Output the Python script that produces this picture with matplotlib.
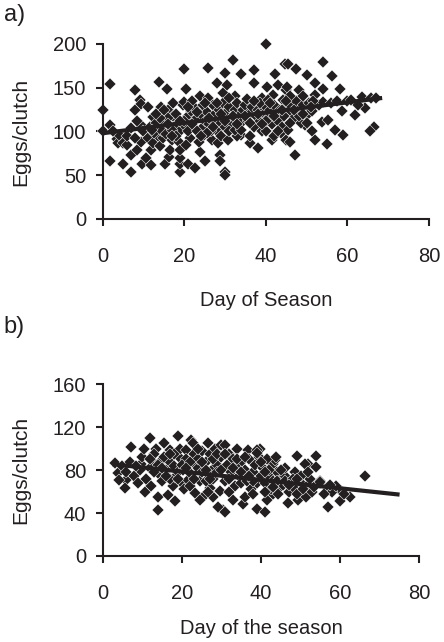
import numpy as np
import matplotlib
matplotlib.use('Agg')
import matplotlib.pyplot as plt

plt.rcParams['font.family'] = ['Liberation Sans', 'DejaVu Sans']

# panel a) eggs per clutch vs day of season
day_a = [0, 0, 1.9, 1.7, 1.7, 3.4, 3.8, 5, 5, 4, 2.5,
         6, 7, 6.9, 7.8, 7.8, 8.3, 7, 9.1, 9.5, 9.5, 9.5, 9.7, 6, 8, 10, 8.5,
         11, 11.6, 11, 11.8, 11.9, 12.3, 12.3, 13.7, 13.5, 13.8, 14, 14.4, 14.7, 10.5, 12.5, 13, 14.5, 15.2,
         15.3, 15.6, 15.8, 16.1, 16.2, 16.5, 16.9, 17.3, 17.3, 18, 18.6, 18.9, 18.9, 18.9, 18.9, 19, 19.7, 19.9, 19.9, 20, 20.3, 17, 16, 18,
         20.9, 21, 21.3, 21.7, 22, 22.6, 23.8, 23.8, 24.3, 25, 22.5, 23, 24, 24.5, 21, 23, 25, 22, 24.5, 20.5, 23.5,
         25.9, 25.9, 26.7, 27.9, 28.3, 28.7, 28.7, 29.6, 30, 30, 30, 30.4, 25.5, 26, 27, 27.5, 28, 28.5, 29, 29.5, 26.5, 27, 29, 30, 30, 25.5,
         30.8, 32, 32.4, 34, 34, 31, 31.5, 32, 32.5, 33, 33.5, 34, 34.5, 31, 33, 35, 35.3, 32.5,
         36.1, 37.2, 37.2, 38, 39, 35.5, 36, 36.5, 37, 37.5, 38, 38.5, 39, 39.5, 40, 36, 38.5,
         40, 40.2, 41.4, 41.8, 42.2, 43, 43.8, 44.2, 44.8, 45, 45, 40.5, 41, 41.5, 42, 42.5, 43, 43.5, 44, 44.5, 40, 42, 45, 40.5,
         45.5, 45.1, 45.5, 45.9, 47.1, 47.5, 48, 49.6, 50, 50, 46, 46.5, 47, 47.5, 48, 48.5, 49, 46, 49,
         51.2, 51.2, 52, 52, 52, 53.7, 54.1, 54.1, 54.9, 55.3, 50.5, 53, 54, 51.5,
         56.1, 57, 58.2, 58.6, 59, 56, 57.5, 60,
         60.9, 61.9, 63.5, 64.3, 65.8, 66.6, 65.6, 62.5, 67,
         12, 14, 16, 18, 20, 22, 24, 26, 28, 30, 32, 34, 36, 38, 40, 42, 44, 46, 48, 50,
         13, 15, 17, 19, 21, 23, 25, 27, 29, 31, 33, 35, 37, 39, 41, 43, 45, 47, 49, 51]
eggs_a = [125, 100, 154, 66, 107, 91, 87, 87, 63, 96, 100,
          84, 73, 54, 147, 125, 79, 104, 136, 131, 107, 88, 63, 95, 92, 100, 112,
          128, 105, 93, 62, 79, 117, 87, 105, 95, 156, 83, 128, 92, 70, 98, 110, 100, 63,
          111, 97, 149, 125, 71, 79, 90, 118, 132, 107, 88, 54, 63, 70, 79, 101, 130, 134, 171, 107, 148, 102, 115, 95,
          63, 118, 93, 123, 110, 58, 140, 77, 94, 66, 128, 115, 120, 105, 100, 100, 112, 135, 130, 85, 88,
          173, 138, 90, 155, 87, 73, 66, 144, 167, 54, 50, 153, 122, 108, 130, 115, 100, 125, 110, 133, 100, 118, 95, 120, 105, 98,
          90, 182, 140, 166, 96, 128, 115, 108, 124, 132, 118, 110, 125, 100, 95, 130, 137, 102,
          87, 170, 155, 81, 138, 112, 120, 128, 105, 118, 125, 112, 100, 120, 128, 95, 132,
          200, 151, 90, 142, 166, 153, 98, 136, 177, 147, 90, 115, 125, 108, 130, 120, 112, 125, 105, 118, 100, 95, 128, 136,
          177, 151, 102, 88, 73, 171, 147, 107, 165, 119, 130, 122, 115, 135, 125, 110, 130, 110, 140,
          123, 100, 155, 142, 90, 111, 179, 149, 86, 113, 132, 130, 134, 135,
          163, 102, 148, 123, 96, 133, 135, 135,
          136, 119, 139, 127, 138, 105, 100, 130, 138,
          102, 115, 108, 120, 112, 108, 95, 115, 132, 112, 118, 102, 110, 120, 112, 118, 125, 140, 118, 110,
          120, 125, 95, 112, 128, 122, 132, 105, 120, 138, 108, 118, 135, 108, 132, 100, 135, 125, 120, 128]
fit_a_x = [0, 68]
fit_a_y = [98, 138]

# panel b) eggs per clutch vs day of the season
day_b = [3.1, 3.9, 6, 5.6, 4.2, 5, 6, 7,
         7.1, 9.8, 8, 9, 10.6, 9.5, 10, 8.5,
         11.9, 12.3, 12.3, 13.5, 14, 14, 14, 11, 12, 13, 14.5, 10.5, 15,
         15.6, 16.5, 16.9, 17.8, 18.2, 18.2, 19, 19.4, 16, 17, 18, 19, 20, 15.5, 17, 19.5,
         21.1, 20.3, 21.5, 22.4, 22.9, 23.3, 23.3, 25.4, 21, 22, 23, 24, 24.5, 25, 20.5, 22, 24, 25,
         26.7, 27.1, 29.6, 30.5, 26, 27, 27.5, 28, 28.5, 29, 30, 26, 28, 29, 30, 26.5, 24.6, 29.2, 30.9,
         30.9, 33, 35.5, 31, 31.5, 32, 32.5, 33, 33.5, 34, 34.5, 35, 32, 34, 35,
         36.8, 38.9, 39.7, 36, 36.5, 37, 37.5, 38, 38.5, 39, 40, 36, 39.5, 38, 38.9, 41,
         41.4, 43.1, 43.1, 44.8, 43.5, 44.3, 40.5, 41, 41.5, 42, 42.5, 43, 44, 45, 41, 43.9,
         46.9, 49, 49.4, 45.5, 46, 47, 47.5, 48, 48.5, 49, 50, 46,
         51.5, 51.9, 52, 54, 54, 54.8, 50.5, 52.5, 53, 55, 53.5, 51, 54.9,
         56.9, 57, 59.9, 60.3, 62.4, 58, 56, 59, 61, 57.4,
         66.2,
         12, 14, 16, 18, 20, 22, 24, 26, 28, 30, 32, 34, 36, 38, 40, 42, 44, 46, 48, 50,
         13, 15, 17, 19, 21, 23, 25, 27, 29, 31, 33, 35, 37, 39, 41, 43, 45, 47, 49, 52]
eggs_b = [87, 77, 71, 63, 71, 84, 78, 88,
          102, 86, 75, 68, 60, 80, 92, 84,
          110, 65, 89, 100, 43, 55, 77, 72, 82, 95, 88, 100, 70,
          105, 57, 99, 65, 51, 74, 112, 92, 80, 88, 84, 78, 68, 92, 72, 100,
          99, 80, 71, 108, 105, 86, 59, 55, 90, 77, 95, 82, 70, 98, 62, 65, 90, 78,
          105, 63, 61, 43, 88, 95, 80, 72, 100, 85, 92, 70, 55, 78, 103, 60, 52, 46, 41,
          103, 52, 48, 70, 85, 95, 78, 90, 65, 100, 75, 88, 60, 82, 68,
          99, 44, 100, 80, 70, 90, 62, 78, 85, 68, 75, 55, 92, 58, 99, 41,
          52, 86, 58, 64, 89, 58, 82, 68, 90, 75, 62, 70, 78, 72, 60, 92,
          49, 93, 52, 66, 75, 60, 70, 64, 78, 58, 68, 82,
          55, 66, 86, 93, 83, 68, 62, 72, 60, 70, 64, 86, 69,
          64, 46, 51, 61, 55, 60, 58, 65, 58, 66,
          75,
          90, 85, 75, 95, 85, 88, 100, 80, 90, 80, 72, 90, 92, 70, 88, 80, 70, 70, 72, 75,
          78, 82, 95, 72, 82, 72, 88, 72, 95, 95, 82, 78, 75, 96, 78, 64, 80, 66, 72, 78]
fit_b_x = [3, 74.5]
fit_b_y = [85.3, 57.4]

ink = '#231f20'


def style_axes(ax, yticks, ylim):
    ax.set_xlim(0, 80)
    ax.set_ylim(*ylim)
    ax.set_xticks([0, 20, 40, 60, 80])
    ax.set_yticks(yticks)
    for side in ['top', 'right']:
        ax.spines[side].set_visible(False)
    for side in ['left', 'bottom']:
        ax.spines[side].set_linewidth(1.5)
        ax.spines[side].set_color(ink)
    ax.tick_params(axis='both', labelsize=14.5, width=1.5, length=5, color=ink, labelcolor=ink)
    ax.tick_params(axis='x', pad=15)
    ax.tick_params(axis='y', pad=7)


fig = plt.figure(figsize=(4.44, 6.42), dpi=100)

ax_a = fig.add_axes([0.2313, 0.6589, 0.735, 0.2726])
ax_a.plot(day_a, eggs_a, 'D', color=ink, markersize=6.2, markeredgecolor='white',
          markeredgewidth=0.35, clip_on=False)
ax_a.plot(fit_a_x, fit_a_y, '-', color=ink, linewidth=3, zorder=3)
style_axes(ax_a, [0, 50, 100, 150, 200], (0, 200))
ax_a.set_xlabel('Day of Season', fontsize=14.5, labelpad=18, color=ink)
ax_a.set_ylabel('Eggs/clutch', fontsize=15, labelpad=16, color=ink)
fig.text(0.008, 0.977, 'a)', fontsize=17, color=ink, va='center')

ax_b = fig.add_axes([0.2313, 0.134, 0.713, 0.2674])
ax_b.plot(day_b, eggs_b, 'D', color=ink, markersize=6.2, markeredgecolor='white',
          markeredgewidth=0.35, clip_on=False)
ax_b.plot(fit_b_x, fit_b_y, '-', color=ink, linewidth=3, zorder=3)
style_axes(ax_b, [0, 40, 80, 120, 160], (0, 160))
ax_b.set_xlabel('Day of the season', fontsize=14.5, labelpad=12, color=ink)
ax_b.set_ylabel('Eggs/clutch', fontsize=15, labelpad=16, color=ink)
fig.text(0.008, 0.49, 'b)', fontsize=17, color=ink, va='center')

fig.savefig('out.png', dpi=100)
